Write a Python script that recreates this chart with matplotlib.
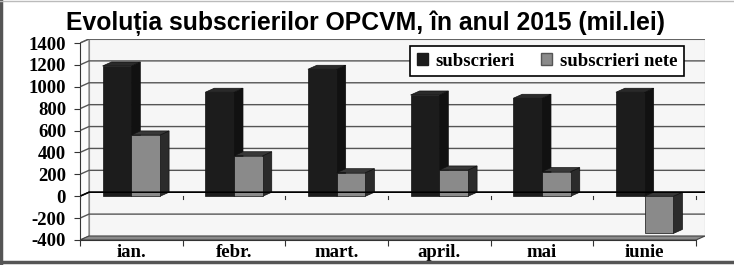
import numpy as np
import matplotlib.pyplot as plt
from matplotlib.patches import Polygon, Patch
from matplotlib.lines import Line2D

# data
luni = ['ian.', 'febr.', 'mart.', 'april.', 'mai', 'iunie']
subscrieri = [1190, 950, 1160, 925, 895, 950]
subscrieri_nete = [560, 370, 215, 240, 225, -340]
y_ticks = list(range(-400, 1401, 200))

W, H = 734, 265
fig = plt.figure(figsize=(W / 100, H / 100), dpi=100)

# plot area in pixels (front axis at x=80, bottom at y=240, back wall to 705 / 39)
x0, x1, ytop, ybot = 80, 705, 39, 240
ax = fig.add_axes([x0 / W, 1 - ybot / H, (x1 - x0) / W, (ybot - ytop) / H])
ax.patch.set_alpha(0)

ymin, ymax = -400, 1400
px_x = 616 / 6.0          # pixels per category on the front plane
px_y = 197 / 1800.0       # pixels per unit on the front plane
dx = 9 / px_x             # depth offset (data units)
dy = 4 / px_y
ax.set_xlim(0, 6 + dx)
ax.set_ylim(ymin, ymax + dy)

# side wall, back wall, floor
ax.add_patch(Polygon([(0, ymin), (dx, ymin + dy), (dx, ymax + dy), (0, ymax)],
                     facecolor='#fbfbfb', edgecolor='#777777', lw=0.8, zorder=0))
ax.add_patch(Polygon([(dx, ymin + dy), (6 + dx, ymin + dy), (6 + dx, ymax + dy), (dx, ymax + dy)],
                     facecolor='#f6f6f6', edgecolor='#888888', lw=0.8, zorder=0))
for v in y_ticks[1:]:
    c = 'black' if v == 0 else '#555555'
    ax.plot([0, dx, 6 + dx], [v, v + dy, v + dy], color=c, lw=1.0, zorder=1)
ax.add_patch(Polygon([(0, ymin), (6, ymin), (6 + dx, ymin + dy), (dx, ymin + dy)],
                     facecolor='#8a8a8a', edgecolor='#444444', lw=0.8, zorder=2))


def bar3d(x, w, v, front, top, side):
    lo, hi = min(0, v), max(0, v)
    ax.add_patch(Polygon([(x + w, lo), (x + w + dx, lo + dy), (x + w + dx, hi + dy), (x + w, hi)],
                         facecolor=side, edgecolor='#111111', lw=0.5, zorder=3))
    ax.add_patch(Polygon([(x, hi), (x + w, hi), (x + w + dx, hi + dy), (x + dx, hi + dy)],
                         facecolor=top, edgecolor='#111111', lw=0.5, zorder=3))
    ax.add_patch(Polygon([(x, lo), (x + w, lo), (x + w, hi), (x, hi)],
                         facecolor=front, edgecolor='#111111', lw=0.5, zorder=3))


bw = 0.28
for i in range(len(luni)):
    c = i + 0.5
    bar3d(c - bw, bw, subscrieri[i], '#1c1c1c', '#2a2a2a', '#111111')
    bar3d(c, bw, subscrieri_nete[i], '#8a8a8a', '#383838', '#2b2b2b')

# zero line over the bars
ax.plot([0, dx, 6 + dx], [0, dy, dy], color='black', lw=1.1, zorder=5)
# small ticks on the category axis at zero
for k in range(7):
    ax.plot([k, k], [0, -25], color='#333333', lw=0.8, zorder=5)

# axes
for s in ['top', 'right']:
    ax.spines[s].set_visible(False)
ax.spines['left'].set_bounds(ymin, ymax)
ax.spines['bottom'].set_bounds(0, 6)
ax.spines['left'].set_color('#333333')
ax.spines['bottom'].set_color('#333333')
ax.set_yticks(y_ticks)
ax.set_yticklabels([str(v) for v in y_ticks])
ax.set_xticks(range(7))
ax.set_xticklabels([])
ax.set_xticks(np.arange(6) + 0.5, minor=True)
ax.set_xticklabels(luni, minor=True)
ax.tick_params(axis='y', length=4, width=0.8, color='#333333', pad=6)
ax.tick_params(axis='x', which='major', length=4, width=0.8, color='#333333')
ax.tick_params(axis='x', which='minor', length=0, pad=3)
for lab in ax.get_yticklabels() + ax.get_xticklabels(minor=True):
    lab.set_fontfamily('Liberation Serif')
    lab.set_fontweight('bold')
    lab.set_fontsize(13.5)

# legend
handles = [Patch(facecolor='#1c1c1c', edgecolor='#1c1c1c'),
           Patch(facecolor='#8a8a8a', edgecolor='#555555')]
leg = fig.legend(handles, ['subscrieri', 'subscrieri nete'], ncol=2,
                 loc='upper right', bbox_to_anchor=(684 / W, 1 - 46 / H),
                 prop={'family': 'Liberation Serif', 'weight': 'bold', 'size': 13.5},
                 fancybox=False, framealpha=1, edgecolor='black',
                 handlelength=0.6, handleheight=0.6, handletextpad=0.4,
                 columnspacing=1.4, borderpad=0.35, borderaxespad=0)
leg.get_frame().set_linewidth(1.2)

# title
fig.text(365 / W, 1 - 30 / H, 'Evoluția subscrierilor OPCVM, în anul 2015 (mil.lei)',
         ha='center', va='baseline', fontsize=17.8, fontweight='bold',
         family=['Liberation Sans', 'DejaVu Sans'])

# picture frame
fig.add_artist(Line2D([1.5 / W, 1.5 / W], [0, 1], color='#555555', lw=2.5))
fig.add_artist(Line2D([0, 1], [1 - 262 / H, 1 - 262 / H], color='#555555', lw=2.5))
fig.add_artist(Line2D([0, 1], [1 - 0.5 / H, 1 - 0.5 / H], color='#bbbbbb', lw=1))

fig.savefig('out.png', dpi=100)
